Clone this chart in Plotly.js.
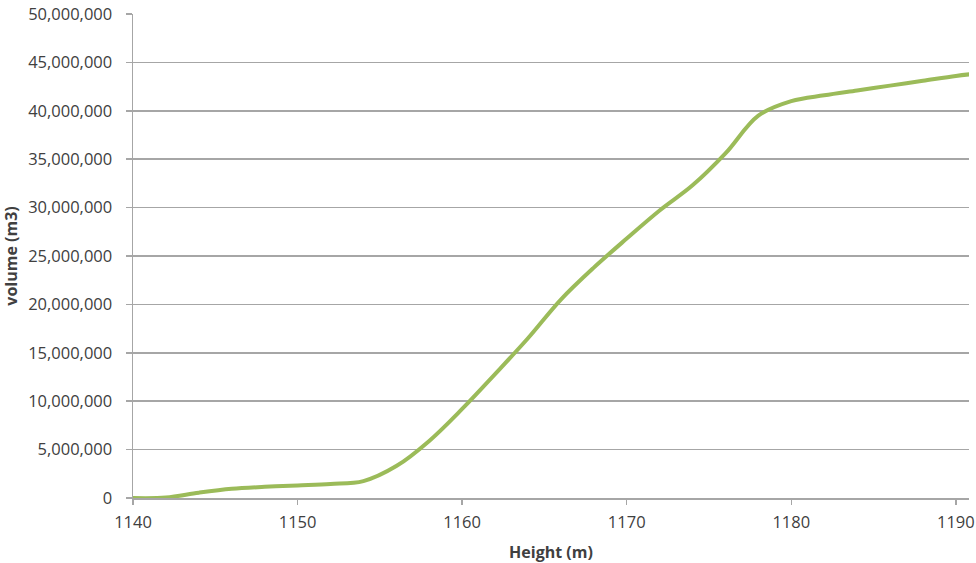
<!DOCTYPE html>
<html>
<head>
<meta charset="utf-8">
<script src="https://cdn.plot.ly/plotly-3.0.1.min.js"></script>
<style>html,body{margin:0;padding:0;background:#fff;}#chart{width:976px;height:563px;}</style>
</head>
<body>
<div id="chart"></div>
<script>
const heights = [1140, 1142, 1144, 1146, 1148, 1150, 1152, 1154, 1156, 1158, 1160, 1162, 1164, 1166, 1168, 1170, 1172, 1174, 1176, 1178, 1180, 1182, 1184, 1186, 1188, 1190, 1191];
const volumes = [0, 50000, 550000, 950000, 1150000, 1300000, 1450000, 1750000, 3300000, 5900000, 9200000, 12800000, 16500000, 20500000, 23800000, 26800000, 29700000, 32300000, 35600000, 39500000, 41000000, 41600000, 42100000, 42600000, 43100000, 43600000, 43800000];
const xTicks = [1140, 1150, 1160, 1170, 1180, 1190];
const yTicks = [0, 5000000, 10000000, 15000000, 20000000, 25000000, 30000000, 35000000, 40000000, 45000000, 50000000];
const yTickText = ["0", "5,000,000", "10,000,000", "15,000,000", "20,000,000", "25,000,000", "30,000,000", "35,000,000", "40,000,000", "45,000,000", "50,000,000"];

const trace = {
  x: heights, y: volumes, type: 'scatter', mode: 'lines',
  line: {color: '#9bbb59', width: 4, shape: 'spline', smoothing: 1},
  hoverinfo: 'skip'
};
const tf = {family: 'Open Sans', size: 16.5, color: '#404040'};
const ttf = {family: 'Open Sans', size: 16, color: '#404040', weight: 'bold'};
const layout = {
  width: 976, height: 563,
  margin: {l: 133, r: 7, t: 14, b: 65},
  paper_bgcolor: '#fff', plot_bgcolor: '#fff',
  showlegend: false,
  font: tf,
  xaxis: {
    range: [1140, 1190.8], tickvals: xTicks, ticktext: xTicks.map(String),
    showgrid: false, zeroline: false,
    showline: true, linecolor: '#a6a6a6', linewidth: 1.5,
    ticks: 'outside', ticklen: 5, tickcolor: '#a6a6a6', tickwidth: 1.5,
    ticklabelstandoff: 4,
    tickfont: tf,
    title: {text: 'Height (m)', font: ttf, standoff: 14}
  },
  yaxis: {
    range: [0, 50000000], tickvals: yTicks, ticktext: yTickText,
    showgrid: true, gridcolor: '#a6a6a6', gridwidth: 1.5, zeroline: false,
    showline: true, linecolor: '#a6a6a6', linewidth: 1.5,
    ticks: 'outside', ticklen: 6, tickcolor: '#a6a6a6', tickwidth: 1.5,
    ticklabelstandoff: 10,
    tickfont: tf,
    title: {text: 'volume (m3)', font: ttf, standoff: 6}
  }
};
Plotly.newPlot('chart', [trace], layout, {displayModeBar: false, staticPlot: true});
</script>
</body>
</html>
